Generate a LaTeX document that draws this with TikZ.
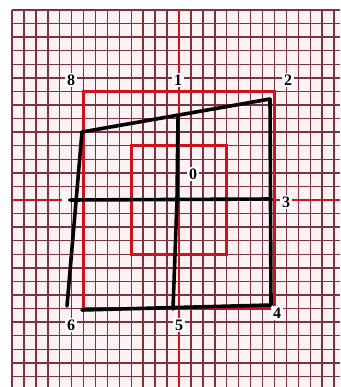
\documentclass[tikz,border=0pt]{standalone}
\usepackage{fontspec}
\setmainfont{Liberation Serif}
\definecolor{gridc}{HTML}{7A3340}
\definecolor{paper}{HTML}{FCF2F3}
\definecolor{axred}{HTML}{D0101E}
\tikzset{
  gridline/.style={draw=gridc, line width=1.5pt},
  redline/.style={draw=axred, line width=2.5pt},
  blackline/.style={draw=black, line width=3.6pt, line cap=round, line join=round},
  lab/.style={fill=white, inner sep=1.6pt, font=\fontsize{16}{16}\selectfont\bfseries, text=black}
}
\begin{document}
\begin{tikzpicture}[x=1pt,y=-1pt]
\useasboundingbox (0,0) rectangle (340,387);
\fill[white] (0,0) rectangle (340,387);
\begin{scope}
\clip (0,0) rectangle (340,387);
\fill[paper] (12,10) rectangle (340,387);
\foreach \i in {0,...,27} {
  \draw[gridline] ({12+11.93*\i},10) -- ({12+11.93*\i},387);
}
\foreach \j in {0,...,27} {
  \draw[gridline] (12,{10+13.57*\j}) -- (340,{10+13.57*\j});
}
% red axes
\draw[redline] (179,9) -- (179,387);
\draw[redline] (12,200) -- (340,200);
% red squares
\draw[redline] (83.6,91.4) rectangle (274.5,308.5);
\draw[redline] (131.3,145.7) rectangle (226.7,254.3);
\end{scope}
% labels
\node[lab] (l8) at (71,80) {8};
\node[lab] (l1) at (178,80) {1};
\node[lab] (l2) at (288,80) {2};
\node[lab] (l0) at (193,174) {0};
\node[lab] (l3) at (286,202) {3};
\node[lab] (l4) at (277,313) {4};
\node[lab] (l5) at (179,325) {5};
\node[lab] (l6) at (71,325) {6};
\fill[white] (62,192) rectangle (68,208);
% black quadrilateral
\coordinate (p8) at (82,132);
\coordinate (p2) at (270,99);
\coordinate (p4) at (271,305);
\coordinate (p6) at (67,306);
\coordinate (p6b) at (82,310);
\coordinate (p1) at (178,115);
\coordinate (pc) at (177,200);
\coordinate (p5) at (173,309);
\coordinate (p7) at (70,200);
\coordinate (p3) at (271,199);
\draw[blackline] (p6) -- (p8) -- (p2) -- (p4) -- (p6b);
\draw[blackline] (p1) -- (pc) -- (p5);
\draw[blackline] (p7) -- (p3);
\end{tikzpicture}
\end{document}
